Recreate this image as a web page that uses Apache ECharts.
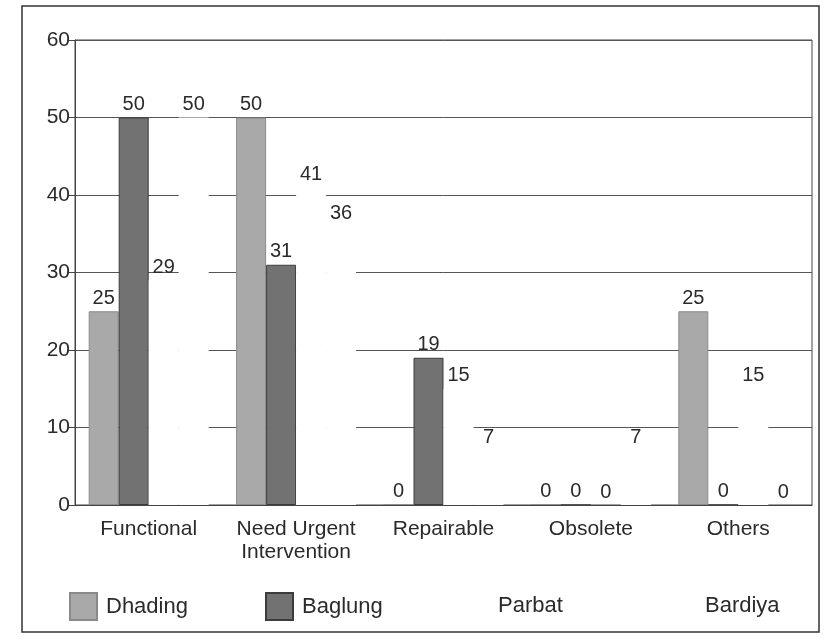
<!DOCTYPE html>
<html>
<head>
<meta charset="utf-8">
<script src="https://cdn.jsdelivr.net/npm/echarts@6/dist/echarts.min.js"></script>
<style>
  html, body { margin: 0; padding: 0; background: #fff; }
  #chart { width: 825px; height: 641px; }
</style>
</head>
<body>
<div id="chart"></div>
<script>
// categories and values
const categories = ["Functional", "Need Urgent\nIntervention", "Repairable", "Obsolete", "Others"];
const dhading = [25, 50, 0, 0, 25];
const baglung = [50, 31, 19, 0, 0];
const parbat  = [29, 41, 15, 0, 15];
const bardiya = [50, 36, 7, 7, 0];
const yTicks  = { min: 0, max: 60, step: 10 };

const font = "Liberation Sans, Arial, sans-serif";
let myChart = echarts.init(document.getElementById("chart"));

let label = {
    show: true,
    position: "top",
    distance: 3,
    fontFamily: font,
    fontSize: 20,
    color: "#2a2a2a"
};

// one legend per series, so they sit spread out like the original
let legendAt = (name, left) => ({
    data: [name],
    left: left,
    top: 587,
    icon: "rect",
    itemWidth: 27,
    itemHeight: 27,
    itemGap: 0,
    textStyle: { fontFamily: font, fontSize: 22, color: "#2a2a2a", padding: [0, 0, 0, 4] },
    selectedMode: false
});

myChart.setOption({
    animation: false,
    backgroundColor: "#fff",
    graphic: [{
        type: "rect",
        shape: { x: 22, y: 6, width: 797, height: 626 },
        style: { fill: "none", stroke: "#333", lineWidth: 1.5 },
        z: -1
    }],
    grid: {
        left: 75, right: 13, top: 40, bottom: 136,
        show: true,
        borderColor: "#444",
        borderWidth: 1
    },
    legend: [
        legendAt("Dhading", 64),
        legendAt("Baglung", 260),
        legendAt("Parbat", 457),
        legendAt("Bardiya", 664)
    ],
    xAxis: {
        type: "category",
        data: categories,
        z: 5,
        axisLine: { lineStyle: { color: "#444", width: 1 } },
        axisTick: { show: false },
        axisLabel: {
            fontFamily: font, fontSize: 21, color: "#2a2a2a",
            lineHeight: 23, margin: 13, interval: 0
        }
    },
    yAxis: {
        type: "value",
        min: yTicks.min, max: yTicks.max, interval: yTicks.step,
        axisLine: { show: true, lineStyle: { color: "#444" } },
        axisTick: { show: true, length: 6, lineStyle: { color: "#444" } },
        splitLine: { lineStyle: { color: "#555", width: 1 } },
        axisLabel: { fontFamily: font, fontSize: 21, color: "#2a2a2a", margin: 5 }
    },
    series: [
        {
            name: "Dhading", type: "bar", data: dhading,
            barWidth: 30, barGap: "0%",
            itemStyle: { color: "#a9a9a9", borderColor: "#8a8a8a", borderWidth: 1 },
            label: label, z: 3
        },
        {
            name: "Baglung", type: "bar", data: baglung,
            barWidth: 30, barGap: "0%",
            itemStyle: { color: "#727272", borderColor: "#3c3c3c", borderWidth: 1 },
            label: label, z: 3
        },
        {
            name: "Parbat", type: "bar", data: parbat,
            barWidth: 30, barGap: "0%",
            itemStyle: { color: "#ffffff" },
            label: label, z: 3
        },
        {
            name: "Bardiya", type: "bar", data: bardiya,
            barWidth: 30, barGap: "0%",
            itemStyle: { color: "#ffffff" },
            label: label, z: 3
        }
    ]
});
</script>
</body>
</html>
